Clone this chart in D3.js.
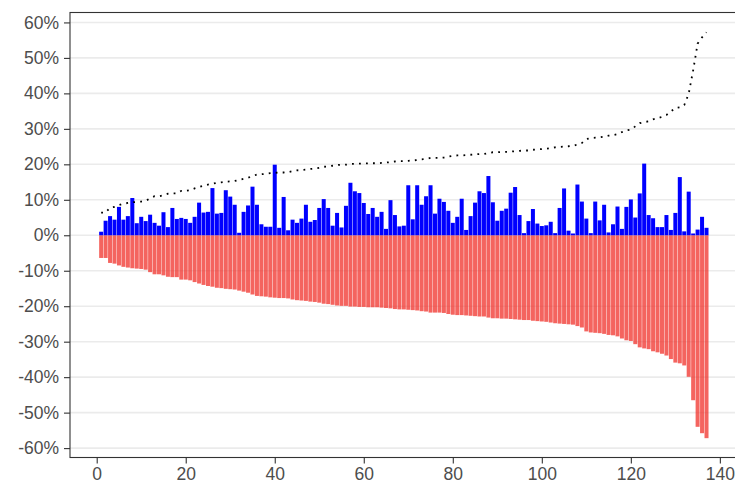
<!DOCTYPE html>
<html>
<head>
<meta charset="utf-8">
<script src="https://cdn.jsdelivr.net/npm/d3@7"></script>
<style>
  body { margin: 0; background: #fff; }
  text { font-family: "Liberation Sans", Arial, sans-serif; }
</style>
</head>
<body>
<div id="chart"></div>
<script>
// Positive values (blue), one per position 1..137
var gains = [
  1.0, 4.1, 5.4, 4.4, 8.0, 4.4, 5.4, 10.5, 3.4, 5.2,
  4.0, 5.8, 3.5, 2.7, 6.5, 2.3, 7.7, 4.6, 4.9, 4.6,
  3.5, 5.2, 9.2, 6.4, 6.6, 13.3, 6.1, 6.3, 12.7, 10.9,
  8.6, 0.7, 6.6, 8.4, 13.7, 8.6, 3.1, 2.4, 2.4, 19.9,
  2.1, 10.8, 1.4, 4.4, 3.5, 4.7, 8.6, 3.8, 4.3, 7.7,
  10.2, 7.7, 2.7, 6.3, 2.2, 8.3, 14.8, 12.4, 11.9, 9.1,
  6.0, 7.7, 5.2, 6.6, 1.8, 9.9, 5.7, 2.5, 2.7, 14.1,
  4.5, 14.1, 8.6, 11.0, 14.1, 6.1, 10.3, 9.4, 6.9, 3.5,
  5.2, 10.3, 1.5, 5.4, 9.2, 12.4, 11.9, 16.7, 9.3, 4.1,
  6.9, 7.5, 12.0, 13.6, 5.7, 0.6, 4.0, 7.4, 3.3, 2.6,
  2.8, 3.8, 0.6, 7.7, 13.2, 1.3, 0.5, 14.3, 9.5, 4.7,
  0.6, 9.5, 4.2, 8.6, 0.8, 3.1, 8.1, 1.8, 8.0, 10.1,
  5.0, 11.8, 20.2, 5.7, 4.8, 2.3, 2.3, 5.7, 1.5, 6.3,
  16.4, 1.1, 12.3, 0.5, 1.6, 5.2, 2.1
];

// Negative values (red), sorted; the dotted line shows their size
var losses = [
  -6.4, -6.4, -7.8, -8.0, -8.5, -8.9, -9.1, -9.3, -9.4, -9.5,
  -9.7, -10.4, -11.0, -11.0, -11.3, -11.7, -11.8, -11.8, -12.5, -12.5,
  -12.7, -13.2, -13.6, -14.0, -14.3, -14.5, -14.8, -14.9, -15.1, -15.2,
  -15.3, -15.6, -15.9, -16.2, -16.7, -17.1, -17.2, -17.3, -17.5, -17.6,
  -17.7, -17.7, -17.8, -18.1, -18.3, -18.4, -18.5, -18.7, -18.8, -19.0,
  -19.3, -19.4, -19.6, -19.8, -19.9, -19.9, -20.1, -20.1, -20.2, -20.2,
  -20.3, -20.3, -20.3, -20.4, -20.5, -20.6, -20.8, -20.9, -20.9, -21.0,
  -21.1, -21.2, -21.4, -21.5, -21.8, -21.8, -21.8, -21.9, -22.2, -22.4,
  -22.5, -22.5, -22.6, -22.7, -22.8, -22.9, -22.9, -23.2, -23.4, -23.4,
  -23.5, -23.5, -23.6, -23.7, -23.8, -23.9, -23.9, -24.1, -24.2, -24.3,
  -24.4, -24.6, -24.8, -24.9, -25.0, -25.1, -25.2, -25.6, -26.0, -27.1,
  -27.4, -27.5, -27.6, -27.8, -28.1, -28.2, -28.5, -29.1, -29.6, -29.8,
  -30.7, -31.6, -31.9, -32.1, -32.7, -33.0, -33.4, -33.9, -34.9, -35.9,
  -36.1, -36.7, -39.9, -46.5, -54.0, -55.8, -57.2
];

var xTicks = [0, 20, 40, 60, 80, 100, 120, 140];
var yTicks = [-60, -50, -40, -30, -20, -10, 0, 10, 20, 30, 40, 50, 60];

var width = 735;
var height = 485;
var panel = { left: 70, right: 739, top: 12.5, bottom: 457.5 };

var svg = d3.select("#chart")
  .append("svg")
  .attr("width", width)
  .attr("height", height);

var x = d3.scaleLinear()
  .domain([-6.0, 144.3])
  .range([panel.left, panel.right]);

var y = d3.scaleLinear()
  .domain([-62.65, 62.8])
  .range([panel.bottom, panel.top]);

var barW = x(0.9) - x(0);

// horizontal grid lines
svg.append("g")
  .selectAll("line")
  .data(yTicks)
  .enter().append("line")
  .attr("x1", panel.left)
  .attr("x2", panel.right)
  .attr("y1", function(d) { return y(d); })
  .attr("y2", function(d) { return y(d); })
  .attr("stroke", "#EBEBEB")
  .attr("stroke-width", 1.6);

// red bars
svg.append("g")
  .selectAll("rect")
  .data(losses)
  .enter().append("rect")
  .attr("x", function(d, i) { return x(i + 1) - barW / 2; })
  .attr("width", barW)
  .attr("y", y(0))
  .attr("height", function(d) { return y(d) - y(0); })
  .attr("fill", "#F0302A")
  .attr("fill-opacity", 0.75);

// blue bars
svg.append("g")
  .selectAll("rect")
  .data(gains)
  .enter().append("rect")
  .attr("x", function(d, i) { return x(i + 1) - barW / 2; })
  .attr("width", barW)
  .attr("y", function(d) { return y(d); })
  .attr("height", function(d) { return y(0) - y(d); })
  .attr("fill", "#0000FF");

// dotted line
var line = d3.line()
  .x(function(d, i) { return x(i + 1); })
  .y(function(d) { return y(-d); });

svg.append("path")
  .datum(losses)
  .attr("d", line)
  .attr("fill", "none")
  .attr("stroke", "#000")
  .attr("stroke-width", 1.8)
  .attr("stroke-dasharray", "1.8,5.2");

// panel border
svg.append("rect")
  .attr("x", panel.left)
  .attr("y", panel.top)
  .attr("width", panel.right - panel.left)
  .attr("height", panel.bottom - panel.top)
  .attr("fill", "none")
  .attr("stroke", "#333333")
  .attr("stroke-width", 1.1);

// axes
var yAxis = d3.axisLeft(y)
  .tickValues(yTicks)
  .tickSize(6)
  .tickPadding(5)
  .tickFormat(function(d) { return d + "%"; });

var xAxis = d3.axisBottom(x)
  .tickValues(xTicks)
  .tickSize(6)
  .tickPadding(4);

var gy = svg.append("g")
  .attr("transform", "translate(" + panel.left + ",0)")
  .call(yAxis);

var gx = svg.append("g")
  .attr("transform", "translate(0," + panel.bottom + ")")
  .call(xAxis);

[gx, gy].forEach(function(g) {
  g.select(".domain").remove();
  g.selectAll(".tick line").attr("stroke", "#333333").attr("stroke-width", 1.1);
  g.selectAll(".tick text")
    .attr("fill", "#4D4D4D")
    .style("font-size", "17.5px")
    .style("font-family", "'Liberation Sans', Arial, sans-serif");
});
</script>
</body>
</html>
